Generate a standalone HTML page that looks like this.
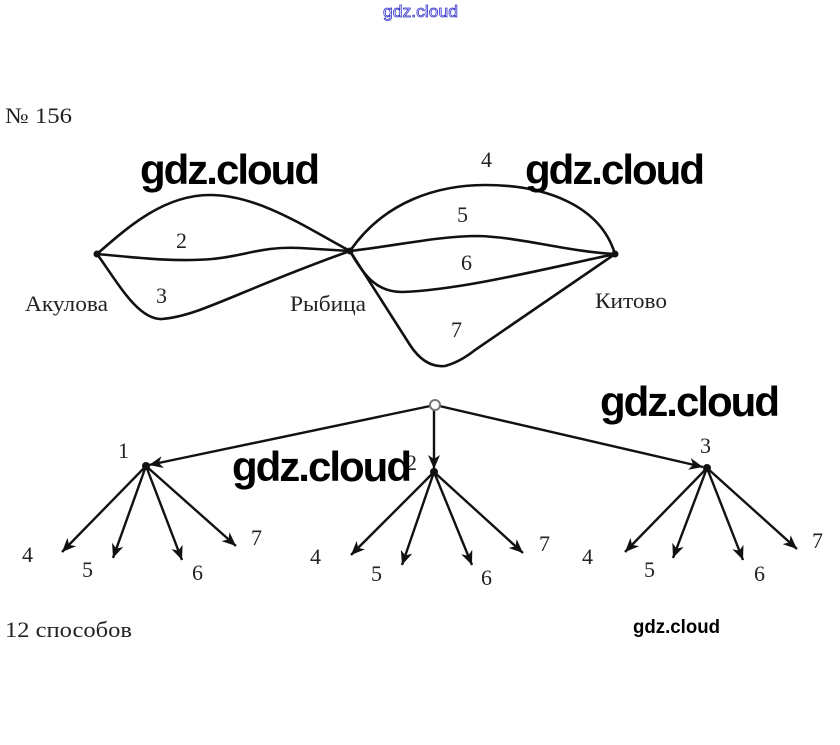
<!DOCTYPE html>
<html><head><meta charset="utf-8"><style>
html,body{margin:0;padding:0;background:#fff;}
svg{display:block;}
.t{font-family:"Liberation Serif",serif;fill:#222;font-size:22px;}
.w{font-family:"Liberation Sans",sans-serif;font-weight:bold;fill:#000;font-size:42px;letter-spacing:-2px;}
</style></head><body>
<svg width="840" height="745" viewBox="0 0 840 745" xmlns="http://www.w3.org/2000/svg">
<defs>
<marker id="a" markerUnits="userSpaceOnUse" markerWidth="16" markerHeight="12" refX="14" refY="6" orient="auto">
<path d="M0,0 L14,6 L0,12 L4,6 Z" fill="#111"/>
</marker>
</defs>
<rect width="840" height="745" fill="#fff"/>
<text x="383" y="17" font-family="Liberation Sans,sans-serif" font-size="17" fill="#fff" stroke="#3333cc" stroke-width="0.8" textLength="75" lengthAdjust="spacingAndGlyphs">gdz.cloud</text>
<text class="t" x="5" y="123" textLength="67" lengthAdjust="spacingAndGlyphs">№ 156</text>

<g fill="none" stroke="#111" stroke-width="2.6" stroke-linecap="round">
<path d="M97,254 C130,225 165,195 210,195 C260,195 310,230 350,251"/>
<path d="M97,254 C140,258 175,262 212,259 C245,256 262,246 300,248 L350,251"/>
<path d="M97,254 C118,283 138,320 162,319 C200,316 240,290 350,251"/>
<path d="M350,251 C385,200 440,185 485,185 C545,185 600,205 615,254"/>
<path d="M350,251 C400,245 440,236 478,236 C520,237 570,252 615,254"/>
<path d="M350,251 C365,278 378,292 402,292 C460,290 540,270 615,254"/>
<path d="M350,251 L410,345 Q425,368 445,366 Q460,362 475,350 L615,254"/>
</g>
<circle cx="97" cy="254" r="3.5" fill="#111"/>
<circle cx="350" cy="251" r="3.5" fill="#111"/>
<circle cx="615" cy="254" r="3.5" fill="#111"/>

<text class="t" x="176" y="248">2</text>
<text class="t" x="156" y="303">3</text>
<text class="t" x="481" y="167">4</text>
<text class="t" x="457" y="222">5</text>
<text class="t" x="461" y="270">6</text>
<text class="t" x="451" y="337">7</text>
<text class="t" x="25" y="311" textLength="83" lengthAdjust="spacingAndGlyphs">Акулова</text>
<text class="t" x="290" y="311" textLength="76" lengthAdjust="spacingAndGlyphs">Рыбица</text>
<text class="t" x="595" y="308" textLength="72" lengthAdjust="spacingAndGlyphs">Китово</text>

<g stroke="#111" stroke-width="2.4" fill="none">
<line x1="435" y1="405" x2="149" y2="465" marker-end="url(#a)"/>
<line x1="434" y1="410" x2="434" y2="469" marker-end="url(#a)"/>
<line x1="435" y1="405" x2="703" y2="467" marker-end="url(#a)"/>

<line x1="146" y1="466" x2="62" y2="552" marker-end="url(#a)"/>
<line x1="146" y1="466" x2="113" y2="558" marker-end="url(#a)"/>
<line x1="146" y1="466" x2="182" y2="560" marker-end="url(#a)"/>
<line x1="146" y1="466" x2="236" y2="546" marker-end="url(#a)"/>

<line x1="434" y1="472" x2="351" y2="555" marker-end="url(#a)"/>
<line x1="434" y1="472" x2="402" y2="565" marker-end="url(#a)"/>
<line x1="434" y1="472" x2="472" y2="565" marker-end="url(#a)"/>
<line x1="434" y1="472" x2="523" y2="553" marker-end="url(#a)"/>

<line x1="707" y1="468" x2="625" y2="552" marker-end="url(#a)"/>
<line x1="707" y1="468" x2="673" y2="558" marker-end="url(#a)"/>
<line x1="707" y1="468" x2="743" y2="560" marker-end="url(#a)"/>
<line x1="707" y1="468" x2="797" y2="549" marker-end="url(#a)"/>
</g>
<circle cx="435" cy="405" r="5" fill="#fff" stroke="#777" stroke-width="2"/>
<circle cx="146" cy="466" r="4" fill="#111"/>
<circle cx="434" cy="472" r="4" fill="#111"/>
<circle cx="707" cy="468" r="4" fill="#111"/>

<text class="t" x="118" y="458">1</text>
<text class="t" x="406" y="470">2</text>
<text class="t" x="700" y="453">3</text>

<text class="t" x="22" y="562">4</text>
<text class="t" x="82" y="577" fill="#666">5</text>
<text class="t" x="192" y="580">6</text>
<text class="t" x="251" y="545">7</text>

<text class="t" x="310" y="564">4</text>
<text class="t" x="371" y="581">5</text>
<text class="t" x="481" y="585">6</text>
<text class="t" x="539" y="551">7</text>

<text class="t" x="582" y="564">4</text>
<text class="t" x="644" y="577">5</text>
<text class="t" x="754" y="581">6</text>
<text class="t" x="812" y="548">7</text>

<text class="t" x="5" y="637" textLength="127" lengthAdjust="spacingAndGlyphs">12 способов</text>

<text class="w" x="140" y="184">gdz.cloud</text>
<text class="w" x="525" y="184">gdz.cloud</text>
<text class="w" x="600" y="416">gdz.cloud</text>
<text class="w" x="232" y="481">gdz.cloud</text>
<text x="633" y="633" font-family="Liberation Sans,sans-serif" font-weight="bold" font-size="19" fill="#000" textLength="87" lengthAdjust="spacingAndGlyphs">gdz.cloud</text>
</svg>
</body></html>
